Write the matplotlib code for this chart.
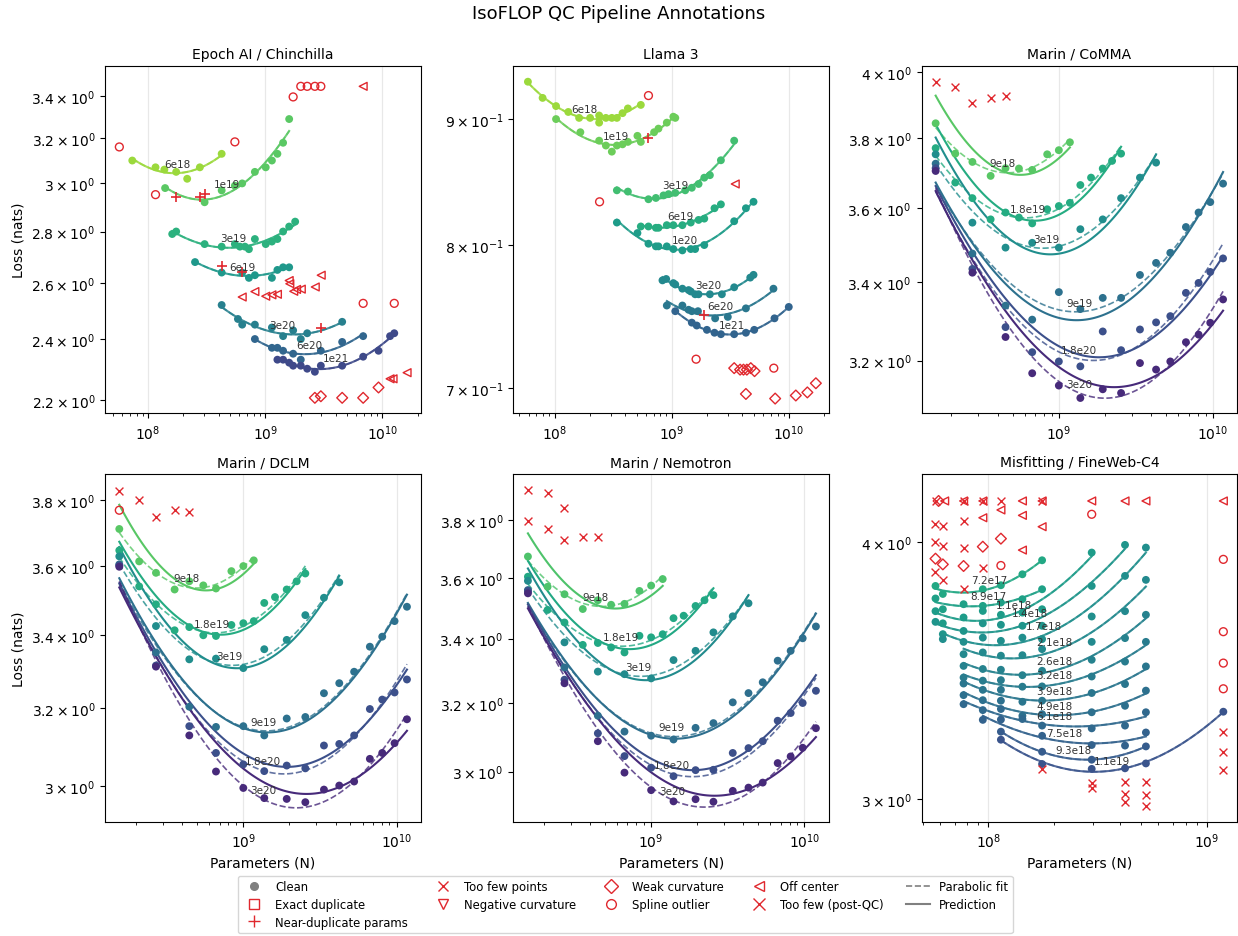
import numpy as np
import matplotlib
matplotlib.use('Agg')
import matplotlib.pyplot as plt
from matplotlib.lines import Line2D
from matplotlib.ticker import FixedLocator, FuncFormatter, NullLocator, NullFormatter

#----------------------------------------------------------#
# Epoch AI / Chinchilla                                    #
#----------------------------------------------------------#
epoch_budgets = ['6e18', '1e19', '3e19', '6e19', '3e20', '6e20', '1e21']
epoch_n = [
    [7.35e7, 1.16e8, 1.38e8, 1.74e8, 2.16e8, 2.77e8, 4.25e8],
    [1.40e8, 3.04e8, 4.25e8, 5.51e8, 6.36e8, 8.16e8, 1.01e9, 1.14e9, 1.27e9, 1.42e9, 1.60e9],
    [1.61e8, 1.74e8, 3.04e8, 4.25e8, 5.51e8, 6.08e8, 6.71e8, 7.26e8, 8.16e8, 1.01e9, 1.14e9, 1.27e9, 1.42e9, 1.60e9, 1.80e9],
    [2.52e8, 4.25e8, 6.36e8, 7.26e8, 8.16e8, 1.14e9, 1.27e9, 1.42e9, 1.60e9],
    [4.25e8, 5.85e8, 6.36e8, 8.16e8, 1.14e9, 1.42e9, 1.73e9, 2.01e9, 2.28e9, 4.53e9],
    [8.16e8, 1.14e9, 1.27e9, 1.42e9, 1.73e9, 2.01e9, 2.98e9, 4.53e9, 6.84e9],
    [1.27e9, 1.42e9, 1.60e9, 1.73e9, 2.01e9, 2.28e9, 2.65e9, 2.98e9, 4.53e9, 6.84e9, 9.25e9, 1.16e10, 1.26e10],
]
epoch_loss = [
    [3.10, 3.07, 3.06, 3.05, 3.02, 3.07, 3.13],
    [2.98, 2.92, 2.97, 2.99, 3.00, 3.05, 3.07, 3.10, 3.13, 3.18, 3.29],
    [2.79, 2.80, 2.75, 2.74, 2.75, 2.74, 2.74, 2.73, 2.77, 2.75, 2.76, 2.77, 2.80, 2.82, 2.84],
    [2.68, 2.64, 2.64, 2.62, 2.63, 2.62, 2.65, 2.66, 2.66],
    [2.52, 2.47, 2.45, 2.45, 2.44, 2.41, 2.43, 2.40, 2.42, 2.46],
    [2.40, 2.37, 2.37, 2.36, 2.35, 2.33, 2.36, 2.39, 2.41],
    [2.33, 2.33, 2.32, 2.31, 2.31, 2.30, 2.29, 2.31, 2.31, 2.34, 2.36, 2.41, 2.42],
]
epoch_neardup_n = [1.74e8, 2.77e8, 3.04e8, 4.25e8, 6.36e8, 2.98e9]
epoch_neardup_loss = [2.944, 2.944, 2.953, 2.664, 2.643, 2.438]
epoch_spline_n = [5.70e7, 1.16e8, 5.51e8, 1.73e9, 2.01e9, 2.28e9, 2.65e9, 2.98e9, 6.84e9, 1.26e10]
epoch_spline_loss = [3.161, 2.952, 3.184, 3.396, 3.448, 3.448, 3.448, 3.448, 2.526, 2.526]
epoch_offc_n = [6.36e8, 8.16e8, 1.01e9, 1.14e9, 1.27e9, 1.60e9, 1.62e9, 1.75e9, 1.85e9, 2.03e9,
                2.67e9, 3.00e9, 6.84e9, 1.16e10, 1.23e10, 1.62e10]
epoch_offc_loss = [2.549, 2.569, 2.552, 2.557, 2.559, 2.610, 2.598, 2.570, 2.577, 2.578,
                   2.586, 2.630, 3.448, 2.267, 2.267, 2.287]
epoch_weak_n = [2.65e9, 2.98e9, 4.53e9, 6.84e9, 9.25e9]
epoch_weak_loss = [2.206, 2.211, 2.206, 2.206, 2.239]

#----------------------------------------------------------#
# Llama 3                                                  #
#----------------------------------------------------------#
llama_budgets = ['6e18', '1e19', '3e19', '6e19', '1e20', '3e20', '6e20', '1e21']
llama_n = [
    [5.93e7, 7.91e7, 1.03e8, 1.31e8, 1.62e8, 2.01e8, 2.40e8, 2.40e8, 2.74e8, 3.08e8, 3.40e8, 3.80e8, 4.22e8, 5.44e8],
    [1.03e8, 1.66e8, 2.40e8, 2.74e8, 3.08e8, 3.40e8, 3.80e8, 4.22e8, 5.09e8, 5.44e8, 7.06e8, 7.69e8, 9.06e8, 1.03e9, 1.07e9],
    [3.40e8, 4.22e8, 6.32e8, 7.31e8, 8.49e8, 9.37e8, 1.07e9, 1.30e9, 1.48e9, 1.69e9, 1.89e9, 2.11e9, 2.62e9, 3.40e9],
    [5.44e8, 6.32e8, 7.31e8, 7.69e8, 9.06e8, 1.03e9, 1.23e9, 1.45e9, 1.69e9, 1.89e9, 2.31e9, 2.62e9],
    [3.40e8, 5.09e8, 6.32e8, 7.31e8, 7.69e8, 9.06e8, 1.03e9, 1.23e9, 1.45e9, 1.58e9, 1.89e9, 3.40e9, 4.28e9, 4.97e9],
    [8.32e8, 8.95e8, 1.03e9, 1.07e9, 1.23e9, 1.39e9, 1.45e9, 1.58e9, 1.69e9, 2.11e9, 2.67e9, 3.40e9, 4.66e9, 4.97e9],
    [9.06e8, 1.23e9, 1.39e9, 1.48e9, 1.67e9, 2.34e9, 3.00e9, 4.28e9, 7.35e9],
    [1.07e9, 1.48e9, 1.63e9, 1.99e9, 2.31e9, 2.62e9, 3.40e9, 4.28e9, 5.04e9, 7.50e9, 9.93e9],
]
llama_loss = [
    [0.932, 0.918, 0.911, 0.906, 0.901, 0.901, 0.903, 0.897, 0.901, 0.901, 0.901, 0.905, 0.909, 0.912],
    [0.900, 0.889, 0.882, 0.878, 0.873, 0.878, 0.879, 0.881, 0.886, 0.881, 0.889, 0.892, 0.897, 0.902, 0.901],
    [0.842, 0.841, 0.835, 0.836, 0.838, 0.839, 0.840, 0.842, 0.844, 0.847, 0.852, 0.854, 0.866, 0.882],
    [0.814, 0.814, 0.813, 0.813, 0.815, 0.815, 0.815, 0.817, 0.819, 0.820, 0.828, 0.831],
    [0.817, 0.809, 0.801, 0.799, 0.799, 0.799, 0.797, 0.796, 0.797, 0.797, 0.800, 0.818, 0.828, 0.833],
    [0.774, 0.775, 0.772, 0.771, 0.768, 0.767, 0.766, 0.764, 0.764, 0.764, 0.764, 0.769, 0.776, 0.778],
    [0.756, 0.756, 0.753, 0.752, 0.752, 0.747, 0.748, 0.754, 0.768],
    [0.752, 0.744, 0.742, 0.739, 0.737, 0.736, 0.736, 0.737, 0.739, 0.747, 0.755],
]
llama_neardup_n = [6.32e8, 1.89e9]
llama_neardup_loss = [0.884, 0.749]
llama_spline_n = [6.32e8, 2.42e8, 1.61e9, 7.40e9]
llama_spline_loss = [0.920, 0.833, 0.719, 0.713]
llama_offc_n = [3.47e9]
llama_offc_loss = [0.847]
llama_weak_n = [3.40e9, 3.82e9, 4.08e9, 4.36e9, 4.71e9, 5.07e9, 4.28e9, 7.60e9, 1.14e10, 1.43e10, 1.69e10]
llama_weak_loss = [0.713, 0.712, 0.712, 0.712, 0.713, 0.711, 0.696, 0.693, 0.695, 0.697, 0.703]

#----------------------------------------------------------#
# Marin / CoMMA                                            #
#----------------------------------------------------------#
comma_budgets = ['9e18', '1.8e19', '3e19', '9e19', '1.8e20', '3e20']
comma_grid = [1.58e8, 2.74e8, 4.50e8, 6.71e8, 1.00e9, 1.38e9, 1.93e9, 2.54e9,
              3.37e9, 4.29e9, 5.31e9, 6.71e9, 8.11e9, 9.66e9, 1.17e10]
comma_n = [
    [1.58e8, 2.12e8, 2.74e8, 3.60e8, 4.50e8, 5.50e8, 6.71e8, 8.40e8, 1.00e9, 1.18e9],
    [1.58e8, 2.12e8, 2.74e8, 3.60e8, 4.50e8, 5.50e8, 6.71e8, 8.40e8, 1.00e9, 1.18e9, 1.38e9, 1.62e9, 1.93e9, 2.22e9, 2.54e9],
    [1.58e8, 2.74e8, 4.50e8, 6.71e8, 1.00e9, 1.38e9, 1.93e9, 2.54e9, 3.37e9, 4.29e9],
    comma_grid, comma_grid, comma_grid,
]
comma_loss = [
    [3.844, 3.755, 3.731, 3.691, 3.713, 3.712, 3.708, 3.753, 3.765, 3.788],
    [3.771, 3.672, 3.628, 3.569, 3.588, 3.574, 3.558, 3.597, 3.606, 3.615, 3.665, 3.686, 3.712, 3.734, 3.755],
    [3.753, 3.560, 3.492, 3.505, 3.492, 3.542, 3.569, 3.628, 3.686, 3.729],
    [3.726, 3.476, 3.339, 3.303, 3.374, 3.330, 3.359, 3.359, 3.419, 3.451, 3.478, 3.548, 3.588, 3.617, 3.669],
    [3.713, 3.435, 3.284, 3.221, 3.198, 3.186, 3.273, 3.226, 3.278, 3.296, 3.312, 3.372, 3.398, 3.427, 3.463],
    [3.705, 3.425, 3.259, 3.169, 3.139, 3.109, 3.130, 3.121, 3.194, 3.178, 3.198, 3.246, 3.265, 3.295, 3.355],
]
# previsao lida na ponta esquerda / minimo / ponta direita
comma_pred_n = [[1.58e8, 5.56e8, 1.18e9], [1.58e8, 7.48e8, 2.54e9], [1.58e8, 7.67e8, 4.29e9],
                [1.58e8, 1.01e9, 1.17e10], [1.58e8, 1.36e9, 1.17e10], [1.58e8, 1.58e9, 1.17e10]]
comma_pred_loss = [[3.927, 3.694, 3.773], [3.841, 3.566, 3.775], [3.802, 3.476, 3.753],
                   [3.672, 3.307, 3.702], [3.662, 3.215, 3.469], [3.648, 3.145, 3.326]]
comma_toofew_n = [1.58e8, 2.12e8, 2.74e8, 3.60e8, 4.50e8]
comma_toofew_loss = [3.970, 3.952, 3.906, 3.919, 3.927]

#----------------------------------------------------------#
# Marin / DCLM                                             #
#----------------------------------------------------------#
dclm_budgets = ['9e18', '1.8e19', '3e19', '9e19', '1.8e20', '3e20']
dclm_grid = [1.55e8, 2.69e8, 4.44e8, 6.63e8, 1.00e9, 1.37e9, 1.92e9, 2.54e9,
             3.36e9, 4.23e9, 5.29e9, 6.70e9, 8.07e9, 9.71e9, 1.17e10]
dclm_n = [
    [1.55e8, 2.09e8, 2.69e8, 3.56e8, 4.44e8, 5.48e8, 6.63e8, 8.36e8, 1.00e9, 1.17e9],
    [1.55e8, 2.09e8, 2.69e8, 3.56e8, 4.44e8, 5.48e8, 6.63e8, 8.36e8, 1.00e9, 1.17e9, 1.37e9, 1.61e9, 1.92e9, 2.23e9, 2.54e9],
    [1.55e8, 2.69e8, 4.44e8, 6.63e8, 1.00e9, 1.37e9, 1.92e9, 2.54e9, 3.36e9, 4.23e9],
    dclm_grid, dclm_grid, dclm_grid,
]
dclm_loss = [
    [3.711, 3.613, 3.579, 3.530, 3.554, 3.542, 3.533, 3.584, 3.599, 3.616],
    [3.646, 3.539, 3.487, 3.413, 3.422, 3.399, 3.397, 3.428, 3.433, 3.439, 3.491, 3.508, 3.530, 3.554, 3.577],
    [3.628, 3.425, 3.332, 3.334, 3.308, 3.360, 3.386, 3.456, 3.506, 3.551],
    [3.604, 3.351, 3.204, 3.151, 3.153, 3.129, 3.173, 3.177, 3.240, 3.267, 3.298, 3.367, 3.395, 3.439, 3.480],
    [3.601, 3.315, 3.153, 3.084, 3.055, 3.038, 3.052, 3.045, 3.103, 3.107, 3.129, 3.198, 3.223, 3.242, 3.277],
    [3.597, 3.312, 3.129, 3.037, 2.996, 2.971, 2.969, 2.961, 2.992, 3.002, 3.012, 3.069, 3.084, 3.109, 3.171],
]
dclm_pred_n = [[1.55e8, 5.35e8, 1.17e9], [1.55e8, 6.70e8, 2.54e9], [1.55e8, 8.61e8, 4.23e9],
               [1.55e8, 1.22e9, 1.17e10], [1.55e8, 1.57e9, 1.17e10], [1.55e8, 2.12e9, 1.17e10]]
dclm_pred_loss = [[3.786, 3.528, 3.606], [3.672, 3.401, 3.590], [3.656, 3.308, 3.570],
                  [3.563, 3.139, 3.515], [3.548, 3.052, 3.304], [3.536, 2.984, 3.141]]
dclm_toofew_n = [1.55e8, 2.09e8, 2.69e8, 3.56e8, 4.44e8]
dclm_toofew_loss = [3.830, 3.801, 3.747, 3.769, 3.764]
dclm_spline_n = [1.55e8]
dclm_spline_loss = [3.769]

#----------------------------------------------------------#
# Marin / Nemotron                                         #
#----------------------------------------------------------#
nemo_budgets = ['9e18', '1.8e19', '3e19', '9e19', '1.8e20', '3e20']
nemo_grid = [1.57e8, 2.72e8, 4.49e8, 6.70e8, 1.00e9, 1.40e9, 1.95e9, 2.55e9,
             3.41e9, 4.32e9, 5.35e9, 6.70e9, 8.14e9, 9.75e9, 1.19e10]
nemo_n = [
    [1.57e8, 2.11e8, 2.72e8, 3.58e8, 4.49e8, 5.48e8, 6.70e8, 8.39e8, 1.00e9, 1.19e9],
    [1.57e8, 2.11e8, 2.72e8, 3.58e8, 4.49e8, 5.48e8, 6.70e8, 8.39e8, 1.00e9, 1.19e9, 1.40e9, 1.63e9, 1.95e9, 2.23e9, 2.55e9],
    [1.57e8, 2.72e8, 4.49e8, 6.70e8, 1.00e9, 1.40e9, 1.95e9, 2.55e9, 3.41e9, 4.32e9],
    nemo_grid, nemo_grid, nemo_grid,
]
nemo_loss = [
    [3.673, 3.570, 3.545, 3.496, 3.525, 3.510, 3.513, 3.556, 3.574, 3.596],
    [3.604, 3.493, 3.452, 3.380, 3.386, 3.372, 3.356, 3.409, 3.404, 3.414, 3.466, 3.474, 3.506, 3.525, 3.542],
    [3.590, 3.388, 3.296, 3.288, 3.275, 3.332, 3.361, 3.420, 3.472, 3.515],
    [3.559, 3.309, 3.162, 3.115, 3.103, 3.092, 3.126, 3.140, 3.202, 3.230, 3.263, 3.330, 3.361, 3.401, 3.439],
    [3.556, 3.271, 3.110, 3.044, 3.011, 2.987, 3.004, 3.005, 3.053, 3.067, 3.087, 3.147, 3.170, 3.200, 3.237],
    [3.548, 3.260, 3.087, 2.997, 2.948, 2.917, 2.923, 2.916, 2.946, 2.955, 2.969, 3.024, 3.043, 3.068, 3.125],
]
nemo_pred_n = [[1.57e8, 5.54e8, 1.19e9], [1.57e8, 6.76e8, 2.55e9], [1.57e8, 8.26e8, 4.32e9],
               [1.57e8, 1.30e9, 1.19e10], [1.57e8, 1.84e9, 1.19e10], [1.57e8, 2.25e9, 1.19e10]]
nemo_pred_loss = [[3.754, 3.498, 3.573], [3.658, 3.367, 3.565], [3.632, 3.271, 3.542],
                  [3.516, 3.095, 3.481], [3.511, 3.004, 3.285], [3.498, 2.934, 3.099]]
nemo_toofew_n = [1.57e8, 2.11e8, 2.72e8, 1.57e8, 2.11e8, 2.72e8, 3.58e8, 4.49e8]
nemo_toofew_loss = [3.909, 3.898, 3.846, 3.798, 3.768, 3.729, 3.741, 3.741]

#----------------------------------------------------------#
# Misfitting / FineWeb-C4                                  #
#----------------------------------------------------------#
misfit_budgets = ['7.2e17', '8.9e17', '1.1e18', '1.4e18', '1.7e18', '2.1e18', '2.6e18',
                  '3.2e18', '3.9e18', '4.9e18', '6.1e18', '7.5e18', '9.3e18', '1.1e19']
misfit_mid = [7.69e7, 9.42e7, 1.14e8, 1.43e8, 1.76e8, 2.97e8, 4.22e8, 5.26e8]
misfit_n = [
    [5.72e7, 6.18e7, 9.42e7, 1.14e8, 1.43e8, 1.76e8],
    [5.72e7, 6.18e7, 7.69e7, 9.42e7, 1.14e8, 1.43e8, 1.76e8],
    [5.72e7, 6.18e7, 7.69e7, 9.42e7, 1.14e8, 1.43e8, 1.76e8, 2.97e8],
    [5.72e7, 6.18e7, 7.69e7, 9.42e7, 1.14e8, 1.43e8, 1.76e8, 2.97e8, 4.22e8],
    [6.18e7, 7.69e7, 9.42e7, 1.14e8, 1.43e8, 1.76e8, 2.97e8, 4.22e8, 5.26e8],
    misfit_mid, misfit_mid, misfit_mid, misfit_mid, misfit_mid, misfit_mid,
    [9.42e7, 1.14e8, 1.76e8, 2.97e8, 4.22e8, 5.26e8],
    [1.14e8, 1.76e8, 2.97e8, 5.26e8],
    [1.14e8, 1.76e8, 2.97e8, 4.22e8, 5.26e8, 1.19e9],
]
misfit_loss = [
    [3.808, 3.774, 3.794, 3.811, 3.858, 3.919],
    [3.755, 3.710, 3.731, 3.724, 3.738, 3.752, 3.794],
    [3.702, 3.652, 3.676, 3.703, 3.687, 3.696, 3.710, 3.953],
    [3.658, 3.608, 3.621, 3.652, 3.646, 3.642, 3.642, 3.808, 3.987],
    [3.588, 3.577, 3.594, 3.581, 3.594, 3.588, 3.680, 3.851, 3.975],
    [3.528, 3.535, 3.522, 3.524, 3.548, 3.577, 3.702, 3.834],
    [3.482, 3.470, 3.467, 3.446, 3.463, 3.506, 3.592, 3.687],
    [3.437, 3.425, 3.427, 3.402, 3.403, 3.441, 3.499, 3.577],
    [3.414, 3.390, 3.390, 3.345, 3.349, 3.378, 3.412, 3.480],
    [3.370, 3.351, 3.349, 3.293, 3.299, 3.306, 3.330, 3.387],
    [3.336, 3.314, 3.318, 3.281, 3.257, 3.247, 3.257, 3.306],
    [3.278, 3.279, 3.220, 3.187, 3.185, 3.232],
    [3.235, 3.163, 3.135, 3.182],
    [3.206, 3.120, 3.103, 3.105, 3.122, 3.308],
]
misfit_toofew_n = [5.72e7, 7.69e7, 9.42e7, 1.14e8, 1.76e8, 5.66e7, 6.18e7, 7.69e7,
                   5.66e7, 6.18e7, 7.69e7, 9.42e7, 5.66e7, 6.18e7, 7.69e7]
misfit_toofew_loss = [4.188, 4.188, 4.188, 4.188, 4.188, 4.083, 4.072, 4.095,
                      4.001, 3.982, 3.972, 3.887, 3.868, 3.834, 3.796]
misfit_postqc_n = [1.76e8, 2.97e8, 2.97e8, 4.22e8, 4.22e8, 4.22e8, 5.26e8, 5.26e8, 5.26e8, 1.19e9, 1.19e9, 1.19e9]
misfit_postqc_loss = [3.103, 3.056, 3.036, 3.059, 3.017, 2.989, 3.059, 3.014, 2.978, 3.232, 3.163, 3.099]
misfit_offc_n = [6.30e7, 7.69e7, 9.42e7, 1.43e8, 1.76e8, 2.97e8, 4.22e8, 5.26e8, 1.19e9,
                 9.42e7, 1.14e8, 1.43e8, 1.76e8, 1.43e8]
misfit_offc_loss = [4.188, 4.188, 4.188, 4.188, 4.188, 4.188, 4.188, 4.188, 4.188,
                    4.110, 4.146, 4.121, 4.069, 3.964]
misfit_weak_n = [5.91e7, 1.14e8, 9.42e7, 5.72e7, 6.18e7, 7.69e7]
misfit_weak_loss = [4.188, 4.015, 3.979, 3.926, 3.901, 3.894]
misfit_spline_n = [1.14e8, 2.97e8, 1.19e9, 1.19e9, 1.19e9, 1.19e9]
misfit_spline_loss = [3.896, 4.126, 3.923, 3.618, 3.493, 3.394]

#----------------------------------------------------------#
# Estilo                                                   #
#----------------------------------------------------------#
RED = '#e0282e'
MARK = {'neardup': dict(marker='+', s=45, c=RED, linewidths=1.2),
        'toofew': dict(marker='x', s=32, c=RED, linewidths=1.0),
        'postqc': dict(marker='x', s=32, c=RED, linewidths=1.0),
        'weak': dict(marker='D', s=30, facecolors='none', edgecolors=RED, linewidths=1.0),
        'spline': dict(marker='o', s=32, facecolors='none', edgecolors=RED, linewidths=1.0),
        'offc': dict(marker='<', s=32, facecolors='none', edgecolors=RED, linewidths=1.0)}


def sci_label(v, pos):
    e = int(np.floor(np.log10(v) + 1e-9))
    m = round(v / 10.0 ** e, 2)
    return r'$%g\times10^{%d}$' % (m, e)


def draw_panel(ax, p):
    nb = len(p['budgets'])
    hi, lo = p['cmap']
    cores = plt.cm.viridis(np.linspace(hi, lo, nb))
    for i, b in enumerate(p['budgets']):
        col = cores[i]
        n = np.array(p['n'][i])
        l = np.array(p['loss'][i])
        x = np.log10(n)
        coef = np.polyfit(x, l, 2)
        xs = np.linspace(x.min(), x.max(), 120)
        ax.plot(10 ** xs, np.polyval(coef, xs), '--', color=col, lw=1.2, alpha=0.8, zorder=2)
        if p.get('pred_n') is not None:
            pc = np.polyfit(np.log10(p['pred_n'][i]), p['pred_loss'][i], 2)
            ax.plot(10 ** xs, np.polyval(pc, xs), '-', color=col, lw=1.5, zorder=2)
        else:
            ax.plot(10 ** xs, np.polyval(coef, xs), '-', color=col, lw=1.5, alpha=0.85, zorder=2)
        ax.scatter(n, l, s=32, color=col, edgecolors='none', zorder=3)
        xm = 0.5 * (x.min() + x.max())
        ax.annotate(b, (10 ** xm, np.polyval(coef, xm)), xytext=(0, 3), textcoords='offset points',
                    ha='center', va='bottom', fontsize=7.5, color='#333333', zorder=5)
    for kind, (on, ol) in p['out'].items():
        ax.scatter(on, ol, zorder=4, **MARK[kind])

    ax.set_xscale('log')
    ax.set_yscale('log')
    ax.set_xlim(*p['xlim'])
    ax.set_ylim(*p['ylim'])
    ax.yaxis.set_major_locator(FixedLocator(p['yticks']))
    ax.yaxis.set_major_formatter(FuncFormatter(sci_label))
    ax.yaxis.set_minor_locator(NullLocator())
    ax.yaxis.set_minor_formatter(NullFormatter())
    ax.grid(True, which='major', axis='x', color='#e8e8e8', lw=0.9)
    ax.set_axisbelow(True)
    ax.set_title(p['title'], fontsize=10)


panels = [
    dict(title='Epoch AI / Chinchilla', budgets=epoch_budgets, n=epoch_n, loss=epoch_loss, cmap=(0.85, 0.22),
         out={'offc': (epoch_offc_n, epoch_offc_loss), 'weak': (epoch_weak_n, epoch_weak_loss),
              'spline': (epoch_spline_n, epoch_spline_loss), 'neardup': (epoch_neardup_n, epoch_neardup_loss)},
         xlim=(4.30e7, 2.12e10), ylim=(2.157, 3.55), yticks=[2.2, 2.4, 2.6, 2.8, 3.0, 3.2, 3.4]),
    dict(title='Llama 3', budgets=llama_budgets, n=llama_n, loss=llama_loss, cmap=(0.85, 0.32),
         out={'offc': (llama_offc_n, llama_offc_loss), 'weak': (llama_weak_n, llama_weak_loss),
              'spline': (llama_spline_n, llama_spline_loss), 'neardup': (llama_neardup_n, llama_neardup_loss)},
         xlim=(4.45e7, 2.19e10), ylim=(0.6834, 0.9458), yticks=[0.7, 0.8, 0.9]),
    dict(title='Marin / CoMMA', budgets=comma_budgets, n=comma_n, loss=comma_loss, cmap=(0.74, 0.12),
         pred_n=comma_pred_n, pred_loss=comma_pred_loss,
         out={'toofew': (comma_toofew_n, comma_toofew_loss)},
         xlim=(1.28e8, 1.45e10), ylim=(3.072, 4.018), yticks=[3.2, 3.4, 3.6, 3.8, 4.0]),
    dict(title='Marin / DCLM', budgets=dclm_budgets, n=dclm_n, loss=dclm_loss, cmap=(0.74, 0.12),
         pred_n=dclm_pred_n, pred_loss=dclm_pred_loss,
         out={'toofew': (dclm_toofew_n, dclm_toofew_loss), 'spline': (dclm_spline_n, dclm_spline_loss)},
         xlim=(1.25e8, 1.44e10), ylim=(2.913, 3.882), yticks=[3.0, 3.2, 3.4, 3.6, 3.8]),
    dict(title='Marin / Nemotron', budgets=nemo_budgets, n=nemo_n, loss=nemo_loss, cmap=(0.72, 0.12),
         pred_n=nemo_pred_n, pred_loss=nemo_pred_loss,
         out={'toofew': (nemo_toofew_n, nemo_toofew_loss)},
         xlim=(1.26e8, 1.45e10), ylim=(2.861, 3.968), yticks=[3.0, 3.2, 3.4, 3.6, 3.8]),
    dict(title='Misfitting / FineWeb-C4', budgets=misfit_budgets, n=misfit_n, loss=misfit_loss, cmap=(0.60, 0.26),
         out={'toofew': (misfit_toofew_n, misfit_toofew_loss), 'postqc': (misfit_postqc_n, misfit_postqc_loss),
              'offc': (misfit_offc_n, misfit_offc_loss), 'weak': (misfit_weak_n, misfit_weak_loss),
              'spline': (misfit_spline_n, misfit_spline_loss)},
         xlim=(4.94e7, 1.38e9), ylim=(2.924, 4.314), yticks=[3.0, 4.0]),
]

fig, axes = plt.subplots(2, 3, figsize=(12.38, 9.37), dpi=100)
plt.subplots_adjust(left=0.0848, right=0.9995, top=0.9285, bottom=0.1217, wspace=0.293, hspace=0.1755)

for ax, p in zip(axes.flat, panels):
    draw_panel(ax, p)

for ax in axes[:, 0]:
    ax.set_ylabel('Loss (nats)', fontsize=10)
for ax in axes[1, :]:
    ax.set_xlabel('Parameters (N)', fontsize=10)

fig.suptitle('IsoFLOP QC Pipeline Annotations', fontsize=13, y=0.985, va='center')

handles = [
    Line2D([], [], ls='none', marker='o', color='gray', ms=5.5, label='Clean'),
    Line2D([], [], ls='none', marker='s', mfc='none', mec=RED, ms=7, label='Exact duplicate'),
    Line2D([], [], ls='none', marker='+', color=RED, ms=8, label='Near-duplicate params'),
    Line2D([], [], ls='none', marker='x', color=RED, ms=7, label='Too few points'),
    Line2D([], [], ls='none', marker='v', mfc='none', mec=RED, ms=7, label='Negative curvature'),
    Line2D([], [], ls='none', marker='D', mfc='none', mec=RED, ms=7, label='Weak curvature'),
    Line2D([], [], ls='none', marker='o', mfc='none', mec=RED, ms=7, label='Spline outlier'),
    Line2D([], [], ls='none', marker='<', mfc='none', mec=RED, ms=7, label='Off center'),
    Line2D([], [], ls='none', marker='x', color=RED, ms=8, label='Too few (post-QC)'),
    Line2D([], [], ls='--', color='gray', lw=1.2, label='Parabolic fit'),
    Line2D([], [], ls='-', color='gray', lw=1.5, label='Prediction'),
]
fig.legend(handles=handles, loc='lower center', ncol=5, fontsize=8.4, labelspacing=0.4,
           borderaxespad=0.0, bbox_to_anchor=(0.505, 0.003))

plt.savefig('out.png', dpi=100)
